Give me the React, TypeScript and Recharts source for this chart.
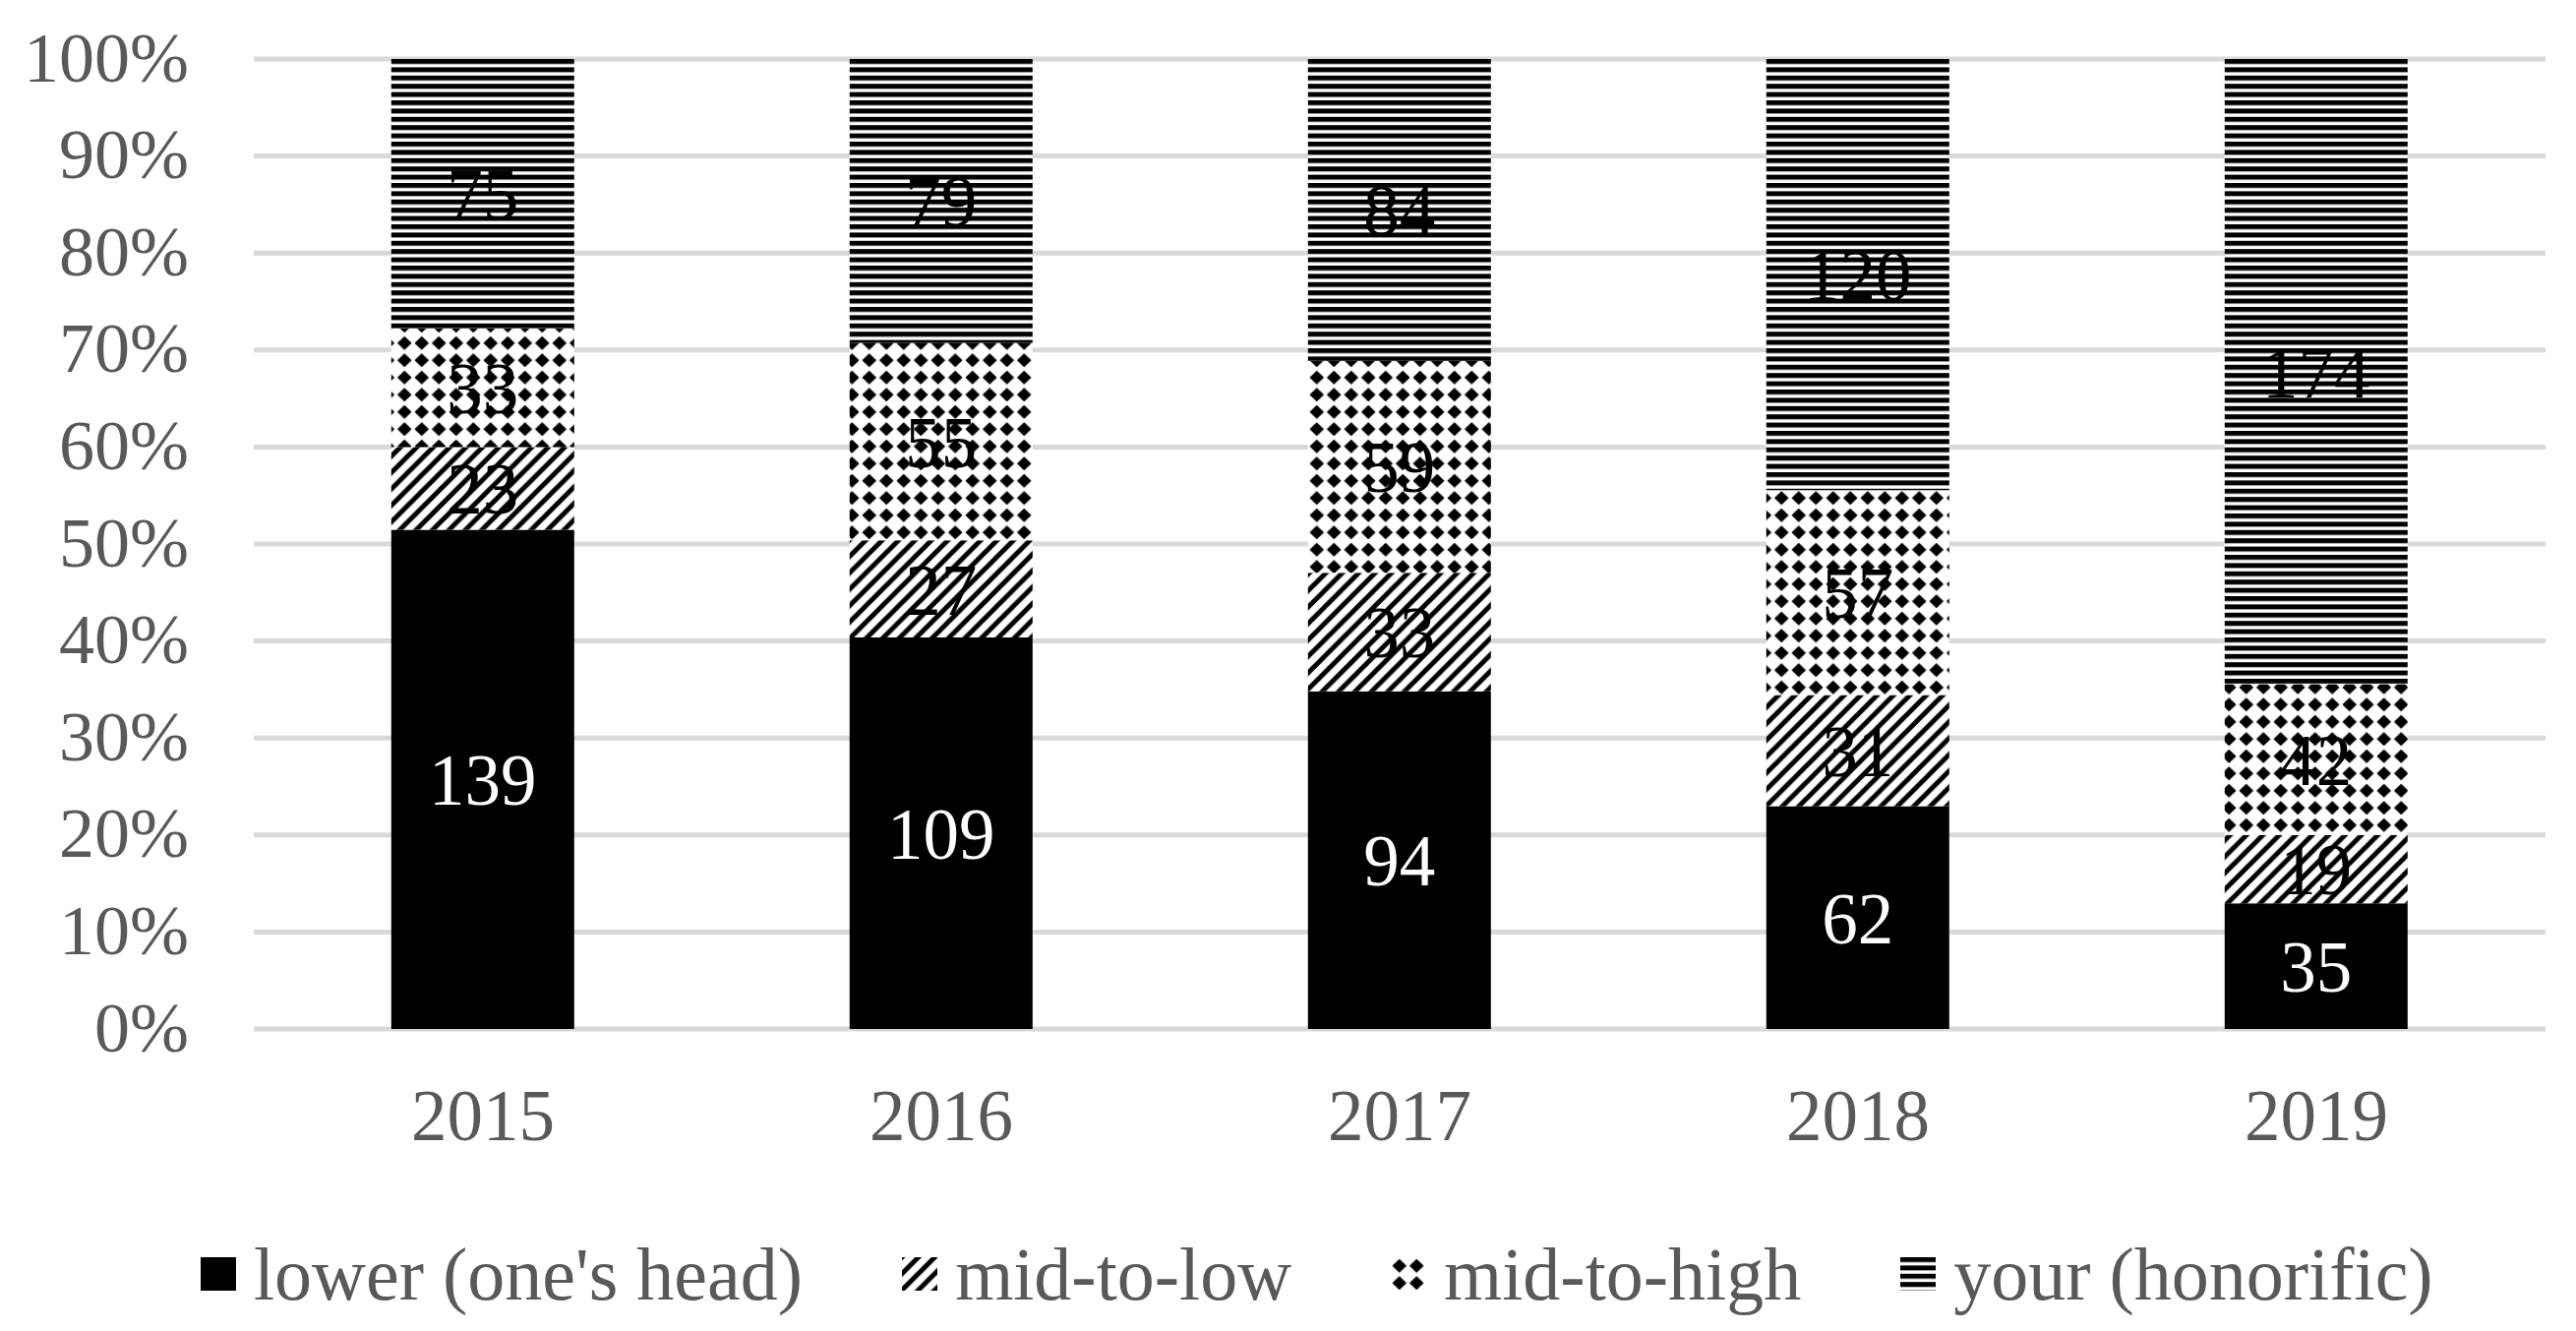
import React from "react";
import { BarChart, Bar, XAxis, YAxis, CartesianGrid, LabelList } from "recharts";

const years = ["2015", "2016", "2017", "2018", "2019"];
const lower = [139, 109, 94, 62, 35];
const midToLow = [23, 27, 33, 31, 19];
const midToHigh = [33, 55, 59, 57, 42];
const yourHonorific = [75, 79, 84, 120, 174];
const yTicks = [0, 0.1, 0.2, 0.3, 0.4, 0.5, 0.6, 0.7, 0.8, 0.9, 1];

const FONT = "'Liberation Serif', 'Times New Roman', serif";
const GRAY = "#595959";

const series = [
  { key: "lower", name: "lower (one's head)", values: lower, pattern: "", labelColor: "#fff" },
  { key: "midToLow", name: "mid-to-low", values: midToLow, pattern: "diag", labelColor: "#000" },
  { key: "midToHigh", name: "mid-to-high", values: midToHigh, pattern: "diamond", labelColor: "#000" },
  { key: "your", name: "your (honorific)", values: yourHonorific, pattern: "hstripe", labelColor: "#000" },
];

const data = years.map((year, i) => {
  const row: Record<string, string | number> = { year };
  series.forEach((s) => {
    row[s.key] = s.values[i];
  });
  return row;
});

const fillFor = (prefix: string, pattern: string) =>
  pattern ? `url(#${prefix}-${pattern})` : "#000";

// excel-ish pattern fills, scaled up
function PatternDefs({ prefix, y = 0 }: { prefix: string; y?: number }) {
  const t = 16.7;
  const d = 17.5;
  return (
    <defs>
      <pattern id={`${prefix}-diag`} patternUnits="userSpaceOnUse" width={t} height={t} y={y}>
        <rect width={t} height={t} fill="#fff" />
        <path
          d={`M-4,4 L4,-4 M0,${t} L${t},0 M${t - 4},${t + 4} L${t + 4},${t - 4}`}
          stroke="#000"
          strokeWidth={5}
        />
      </pattern>
      <pattern id={`${prefix}-diamond`} patternUnits="userSpaceOnUse" width={d} height={d} y={y}>
        <rect width={d} height={d} fill="#fff" />
        <polygon
          points={`${d / 2},1.6 ${d - 1.4},${d / 2} ${d / 2},${d - 1.6} 1.4,${d / 2}`}
          fill="#000"
        />
      </pattern>
      <pattern id={`${prefix}-hstripe`} patternUnits="userSpaceOnUse" width={t} height={8.4} y={y}>
        <rect width={t} height={8.4} fill="#fff" />
        <rect width={t} height={5} fill="#000" />
      </pattern>
    </defs>
  );
}

export default function App() {
  return (
    <div
      style={{
        position: "absolute",
        left: 0,
        top: 0,
        width: 2619,
        height: 1353,
        background: "#fff",
        fontFamily: FONT,
      }}
    >
      <BarChart
        width={2619}
        height={1353}
        data={data}
        stackOffset="expand"
        barCategoryGap="30%"
        margin={{ top: 60, right: 31, bottom: 187, left: 0 }}
      >
        <PatternDefs prefix="ch" y={60} />
        <CartesianGrid vertical={false} stroke="#d9d9d9" strokeWidth={5} />
        <XAxis
          dataKey="year"
          axisLine={false}
          tickLine={false}
          tickMargin={55}
          height={120}
          tick={{ fontSize: 73, fill: GRAY, fontFamily: FONT }}
        />
        <YAxis
          type="number"
          domain={[0, 1]}
          ticks={yTicks}
          interval={0}
          tickFormatter={(v: number) => `${Math.round(v * 100)}%`}
          axisLine={false}
          tickLine={false}
          width={258}
          tickMargin={60}
          tick={{ fontSize: 72, fill: GRAY, fontFamily: FONT, dy: -3 }}
        />
        {series.map((s) => (
          <Bar
            key={s.key}
            dataKey={s.key}
            name={s.name}
            stackId="a"
            fill={fillFor("ch", s.pattern)}
            isAnimationActive={false}
          >
            <LabelList
              dataKey={s.key}
              position="center"
              fill={s.labelColor}
              fontSize={73}
              fontFamily={FONT}
            />
          </Bar>
        ))}
      </BarChart>

      <div
        style={{
          position: "absolute",
          left: 204,
          top: 1259,
          display: "flex",
          alignItems: "center",
          fontSize: 76,
          lineHeight: "72px",
          color: GRAY,
          whiteSpace: "nowrap",
        }}
      >
        {series.map((s, i) => (
          <div
            key={s.key}
            style={{ display: "flex", alignItems: "center", marginLeft: i ? 101 : 0 }}
          >
            <svg width={36} height={34} style={{ marginRight: 18, display: "block" }}>
              <PatternDefs prefix={`lg${i}`} />
              <rect width={36} height={34} fill={fillFor(`lg${i}`, s.pattern)} />
            </svg>
            <span>{s.name}</span>
          </div>
        ))}
      </div>
    </div>
  );
}
